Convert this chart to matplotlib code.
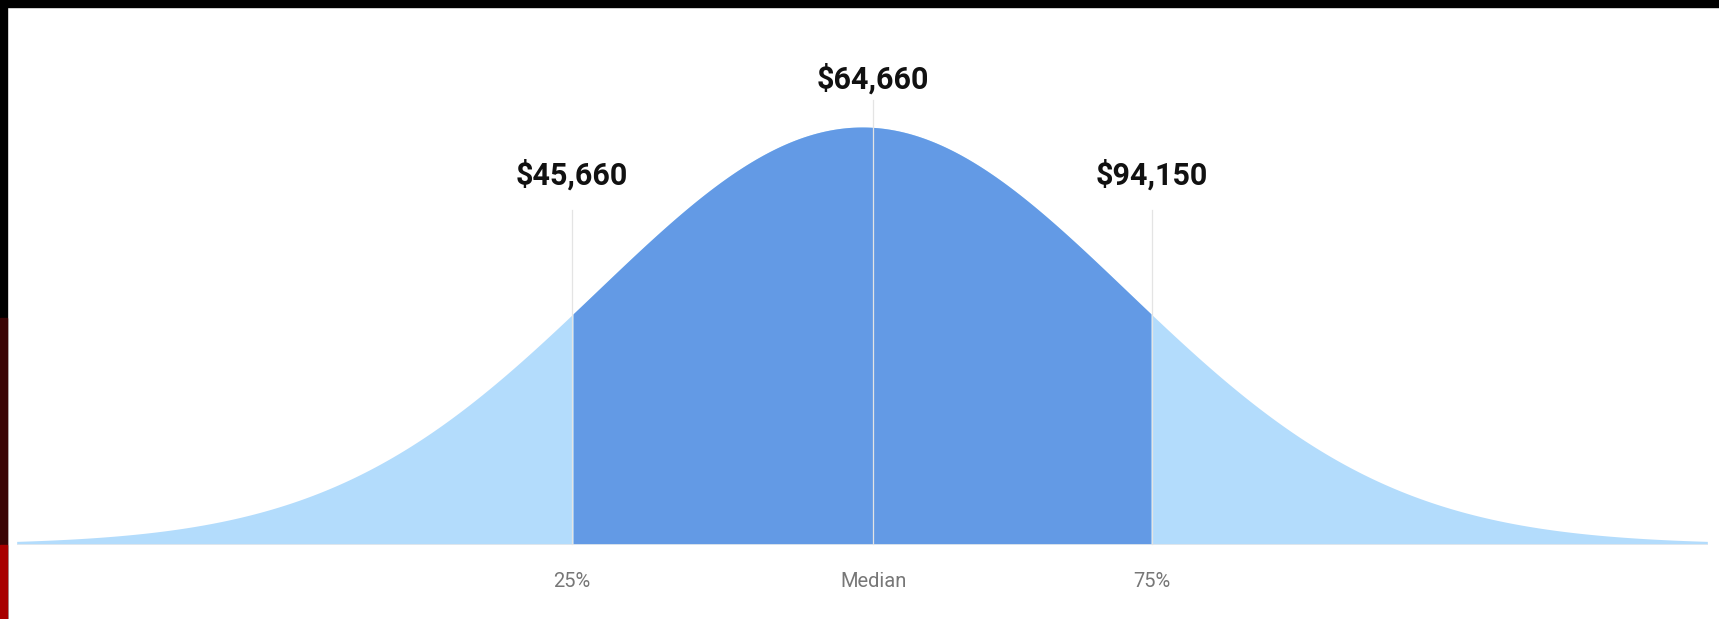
import numpy as np
import matplotlib.pyplot as plt
from matplotlib.patches import Rectangle

# values shown on the chart
values = ['$45,660', '$64,660', '$94,150']
labels = ['25%', 'Median', '75%']
# marker positions on the bell (in std units of the drawn curve)
marker_z = [-1.094, 0.042, 1.094]
curve_span = (-3.19, 3.19)

plt.rcParams['font.family'] = ['Roboto', 'DejaVu Sans']

fig = plt.figure(figsize=(17.19, 6.19), dpi=100)
ax = fig.add_axes([0, 0, 1, 1])
ax.set_xlim(-3.253, 3.234)
ax.set_ylim(-0.18, 1.3046)
ax.axis('off')

z = np.linspace(curve_span[0], curve_span[1], 800)
h = np.exp(-z**2 / 2)
ax.fill_between(z, 0, h, color='#b3dcfc', lw=0)
inner = (z >= marker_z[0]) & (z <= marker_z[2])
ax.fill_between(z[inner], 0, h[inner], color='#639ae5', lw=0)
ax.plot(curve_span, [0, 0], color='#dfe5ea', lw=0.6)

# guide lines + value labels
tops = [0.80, 1.065, 0.80]
label_y = [0.885, 1.115, 0.885]
for zz, top, ly, v, lab in zip(marker_z, tops, label_y, values, labels):
    ax.plot([zz, zz], [0, top], color='#e4e4e4', lw=0.9, zorder=3)
    ax.text(zz, ly, v, ha='center', va='center', fontsize=22,
            fontweight='bold', color='#111111')
    ax.text(zz, -0.089, lab, ha='center', va='center', fontsize=14.5,
            color='#777777')

# black frame bits from the screenshot
W, H = 1719, 619
fig.patches.append(Rectangle((0, 1 - 7 / H), 1, 7 / H, transform=fig.transFigure,
                             color='black', zorder=10))
fig.patches.append(Rectangle((0, 0), 7 / W, 1, transform=fig.transFigure,
                             color='black', zorder=10))
fig.patches.append(Rectangle((0, 0), 7 / W, (H - 318) / H, transform=fig.transFigure,
                             color='#3a0505', zorder=11))
fig.patches.append(Rectangle((0, 0), 7 / W, (H - 545) / H, transform=fig.transFigure,
                             color='#a80000', zorder=12))

fig.savefig('out.png', dpi=100)
